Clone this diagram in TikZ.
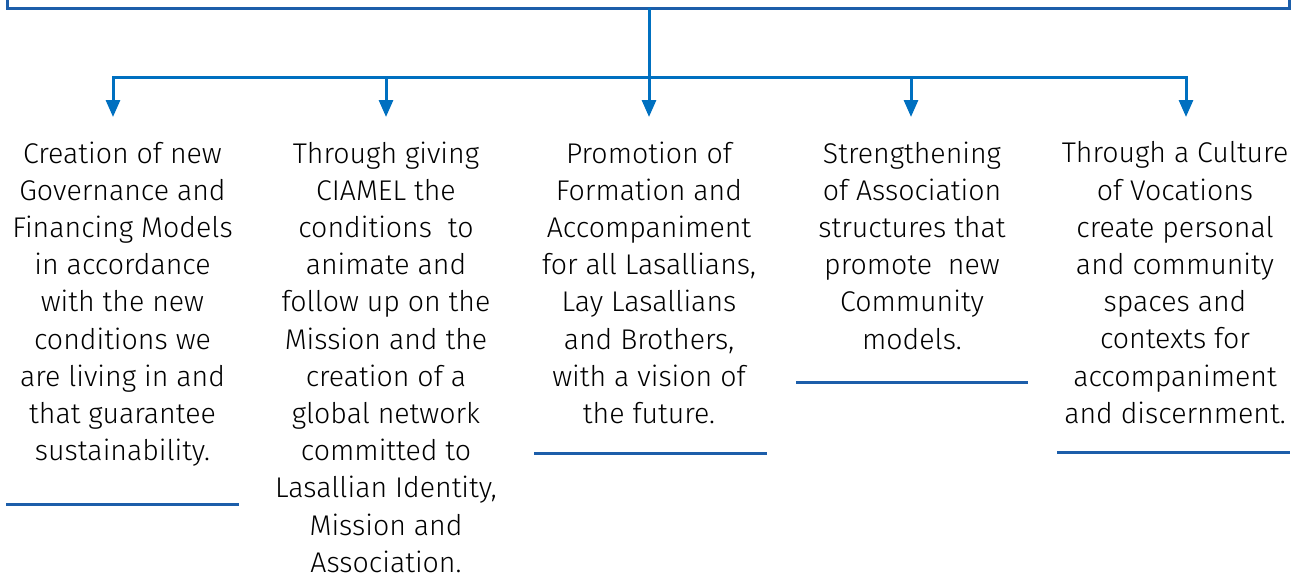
\documentclass[tikz,border=0pt]{standalone}
\usepackage{fontspec}
\setmainfont{Fira Sans Light}
\usetikzlibrary{arrows.meta,positioning}
\definecolor{barblue}{RGB}{28,94,170}
\definecolor{arrowblue}{RGB}{0,112,192}
\tikzset{
  goal/.style={align=center,inner sep=0pt,anchor=north,font=\fontsize{28.5}{37.2}\selectfont},
  branch/.style={arrowblue,line width=3pt},
  down/.style={branch,-{Triangle[width=14pt,length=17pt]}},
  rule/.style={barblue,line width=3pt}
}
\begin{document}
\begin{tikzpicture}[x=1pt,y=-1pt]
      \useasboundingbox (0,0) rectangle (1305,579);
      \draw[rule](7,-2)--(7,8)--(1289,8)--(1289,-2); %top bracket
      %branch points
      \coordinate (top) at (649,8);
      \coordinate (hub) at (649,77);
      \coordinate (bar2) at (386,77);
      \coordinate (bar4) at (911,77);
      \coordinate (tip1) at (113,117);
      \coordinate (tip2) at (386,117);
      \coordinate (tip3) at (649,117);
      \coordinate (tip4) at (911,117);
      \coordinate (tip5) at (1186,117);
      \draw[down](top)--(tip3);
      \draw[down](hub)-|(tip1);
      \draw[down](hub)-|(tip5);
      \draw[down](bar2)--(tip2);
      \draw[down](bar4)--(tip4);
      %goals
      \node[goal] (gov) at (122.5,141.5){Creation of new\\Governance and\\Financing Models\\in accordance\\with the new\\conditions we\\are living in and\\that guarantee\\sustainability.};
      \node[goal] (net) at (386,141.5){Through giving\\CIAMEL the\\conditions\ \ to\\animate and\\follow up on the\\Mission and the\\creation of a\\global network\\committed to\\Lasallian Identity,\\Mission and\\Association.};
      \node[goal] (form) at (649,141.5){Promotion of\\Formation and\\Accompaniment\\for all Lasallians,\\Lay Lasallians\\and Brothers,\\with a vision of\\the future.};
      \node[goal] (assoc) at (912,141.5){Strengthening\\of Association\\structures that\\promote\ \ new\\Community\\models.};
      \node[goal] (voc) at (1175,141.5){Through a Culture\\of Vocations\\create personal\\and community\\spaces and\\contexts for\\accompaniment\\and discernment.};
      %underlines
      \draw[rule](6,504)--(239,504);
      \draw[rule](534,453)--(767,453);
      \draw[rule](796,382)--(1028,382);
      \draw[rule](1057,452)--(1290,452);
\end{tikzpicture}
\end{document}
